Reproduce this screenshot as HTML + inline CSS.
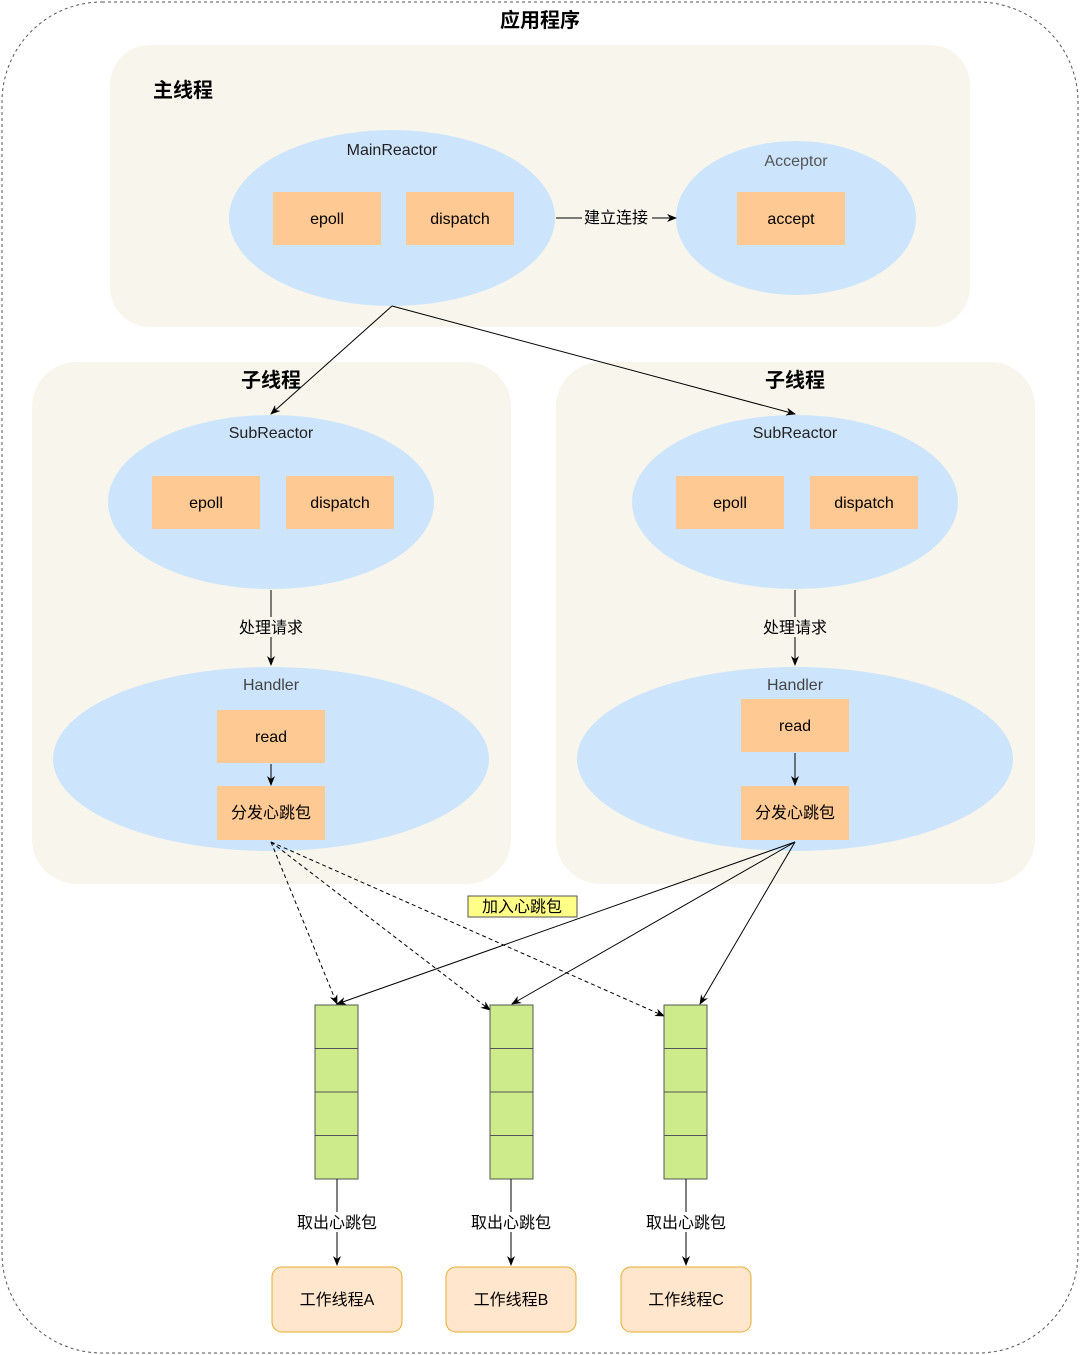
<!DOCTYPE html>
<html><head><meta charset="utf-8"><style>body{margin:0;background:#fff}svg{display:block}text{font-family:"Liberation Sans","Noto Sans CJK SC",sans-serif}</style></head><body>
<svg width="1080" height="1355" viewBox="0 0 1080 1355" xmlns="http://www.w3.org/2000/svg">
<defs><marker id="a" markerWidth="10" markerHeight="10" refX="9" refY="5" orient="auto" markerUnits="userSpaceOnUse"><path d="M0,1 L10,5 L0,9 L3,5 Z" fill="#000"/></marker></defs>
<rect x="2" y="2" width="1076" height="1351" rx="100" fill="none" stroke="#555" stroke-dasharray="3,3"/>
<text x="540" y="27" font-size="20" font-weight="bold" text-anchor="middle">应用程序</text>
<rect x="110" y="45" width="860" height="282" rx="40" fill="#f7f5ec"/>
<text x="153" y="97" font-size="20" font-weight="bold">主线程</text>
<ellipse cx="392" cy="218" rx="163" ry="88" fill="#cce5fc"/>
<text x="392" y="155" font-size="16" text-anchor="middle" fill="#222">MainReactor</text>
<rect x="273" y="192" width="108" height="53" fill="#ffc993"/><text x="327" y="224" font-size="16" text-anchor="middle">epoll</text>
<rect x="406" y="192" width="108" height="53" fill="#ffc993"/><text x="460" y="224" font-size="16" text-anchor="middle">dispatch</text>
<ellipse cx="796" cy="218" rx="120" ry="77" fill="#cce5fc"/>
<text x="796" y="166" font-size="16" text-anchor="middle" fill="#555">Acceptor</text>
<rect x="737" y="192" width="108" height="53" fill="#ffc993"/><text x="791" y="224" font-size="16" text-anchor="middle">accept</text>
<line x1="556" y1="218" x2="676" y2="218" stroke="#000" marker-end="url(#a)"/>
<rect x="582" y="207" width="70" height="20" fill="#f7f5ec"/>
<text x="616" y="223" font-size="16" text-anchor="middle">建立连接</text>
<rect x="32" y="362" width="479" height="522" rx="45" fill="#f7f5ec"/>
<rect x="556" y="362" width="479" height="522" rx="45" fill="#f7f5ec"/>
<text x="271" y="387" font-size="20" font-weight="bold" text-anchor="middle">子线程</text>
<text x="795" y="387" font-size="20" font-weight="bold" text-anchor="middle">子线程</text>
<g id="L">
<ellipse cx="271" cy="502" rx="163" ry="87" fill="#cce5fc"/>
<text x="271" y="438" font-size="16" text-anchor="middle" fill="#222">SubReactor</text>
<rect x="152" y="476" width="108" height="53" fill="#ffc993"/><text x="206" y="508" font-size="16" text-anchor="middle">epoll</text>
<rect x="286" y="476" width="108" height="53" fill="#ffc993"/><text x="340" y="508" font-size="16" text-anchor="middle">dispatch</text>
<line x1="271" y1="590" x2="271" y2="665" stroke="#000" marker-end="url(#a)"/>
<rect x="235" y="617" width="72" height="20" fill="#f7f5ec"/>
<text x="271" y="633" font-size="16" text-anchor="middle">处理请求</text>
<ellipse cx="271" cy="759" rx="218" ry="92" fill="#cce5fc"/>
<text x="271" y="690" font-size="16" text-anchor="middle" fill="#444">Handler</text>
<rect x="217" y="786" width="108" height="54" fill="#ffc993"/><text x="271" y="818" font-size="16" text-anchor="middle">分发心跳包</text>
</g>
<use href="#L" x="524"/>
<rect x="217" y="710" width="108" height="53" fill="#ffc993"/><text x="271" y="742" font-size="16" text-anchor="middle">read</text>
<line x1="271" y1="764" x2="271" y2="785" stroke="#000" marker-end="url(#a)"/>
<rect x="741" y="699" width="108" height="53" fill="#ffc993"/><text x="795" y="731" font-size="16" text-anchor="middle">read</text>
<line x1="795" y1="753" x2="795" y2="785" stroke="#000" marker-end="url(#a)"/>
<line x1="392" y1="306" x2="271" y2="414" stroke="#000" marker-end="url(#a)"/>
<line x1="392" y1="306" x2="795" y2="414" stroke="#000" marker-end="url(#a)"/>
<g stroke="#000" fill="none">
<line x1="271" y1="842" x2="337" y2="1004" stroke-dasharray="4,3" marker-end="url(#a)"/>
<line x1="271" y1="842" x2="490" y2="1010" stroke-dasharray="4,3" marker-end="url(#a)"/>
<line x1="271" y1="842" x2="664" y2="1016" stroke-dasharray="4,3" marker-end="url(#a)"/>
<line x1="795" y1="842" x2="337" y2="1004" marker-end="url(#a)"/>
<line x1="795" y1="842" x2="512" y2="1004" marker-end="url(#a)"/>
<line x1="795" y1="842" x2="700" y2="1004" marker-end="url(#a)"/>
</g>
<rect x="468" y="896" width="109" height="21" fill="#ffff88" stroke="#555"/>
<text x="522" y="912" font-size="16" text-anchor="middle">加入心跳包</text>
<g fill="#cdeb8b" stroke="#555">
<rect x="315" y="1005" width="43" height="43.5"/><rect x="315" y="1048.5" width="43" height="43.5"/><rect x="315" y="1092" width="43" height="43.5"/><rect x="315" y="1135.5" width="43" height="43.5"/>
<rect x="490" y="1005" width="43" height="43.5"/><rect x="490" y="1048.5" width="43" height="43.5"/><rect x="490" y="1092" width="43" height="43.5"/><rect x="490" y="1135.5" width="43" height="43.5"/>
<rect x="664" y="1005" width="43" height="43.5"/><rect x="664" y="1048.5" width="43" height="43.5"/><rect x="664" y="1092" width="43" height="43.5"/><rect x="664" y="1135.5" width="43" height="43.5"/>
</g>
<g font-size="16" text-anchor="middle">
<line x1="337" y1="1179" x2="337" y2="1265" stroke="#000" marker-end="url(#a)"/>
<line x1="511" y1="1179" x2="511" y2="1265" stroke="#000" marker-end="url(#a)"/>
<line x1="686" y1="1179" x2="686" y2="1265" stroke="#000" marker-end="url(#a)"/>
<rect x="292" y="1212" width="90" height="20" fill="#fff"/><text x="337" y="1228">取出心跳包</text>
<rect x="466" y="1212" width="90" height="20" fill="#fff"/><text x="511" y="1228">取出心跳包</text>
<rect x="641" y="1212" width="90" height="20" fill="#fff"/><text x="686" y="1228">取出心跳包</text>
<rect x="272" y="1267" width="130" height="65" rx="10" fill="#ffe6cc" stroke="#e6ac2e"/><text x="337" y="1305">工作线程A</text>
<rect x="446" y="1267" width="130" height="65" rx="10" fill="#ffe6cc" stroke="#e6ac2e"/><text x="511" y="1305">工作线程B</text>
<rect x="621" y="1267" width="130" height="65" rx="10" fill="#ffe6cc" stroke="#e6ac2e"/><text x="686" y="1305">工作线程C</text>
</g>
</svg>
</body></html>
